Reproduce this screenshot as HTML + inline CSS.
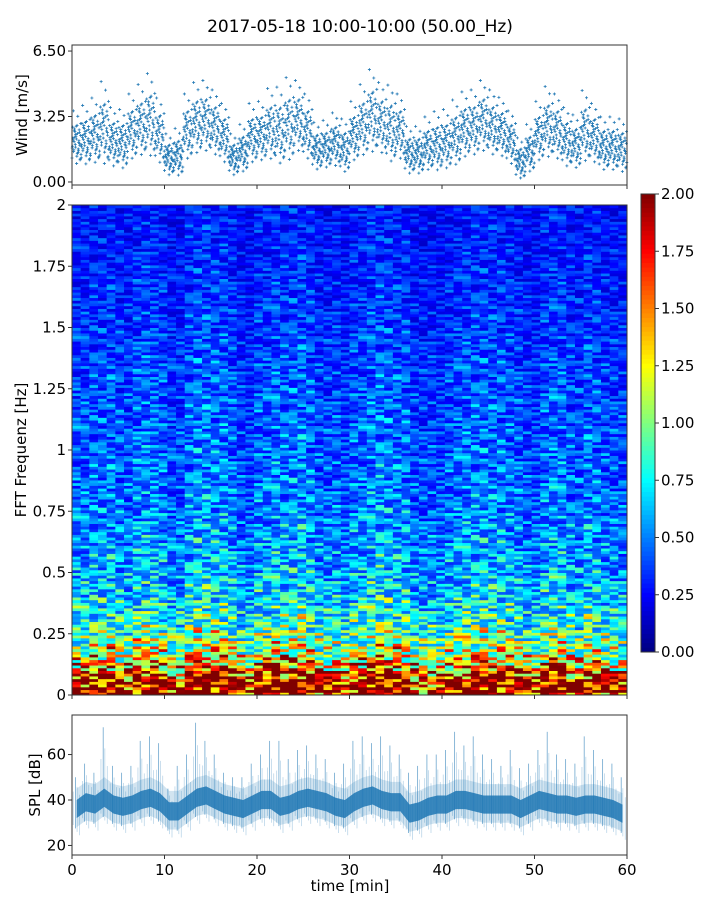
<!DOCTYPE html>
<html><head><meta charset="utf-8">
<style>
body{margin:0;background:#fff;}
svg text{font-family:"DejaVu Sans","Liberation Sans",sans-serif;fill:#000;}
</style></head>
<body>
<svg id="fig" width="720" height="900" viewBox="0 0 720 900" xmlns="http://www.w3.org/2000/svg">
<rect width="720" height="900" fill="#fff"/>
<text x="360" y="32" font-size="17" text-anchor="middle">2017-05-18 10:00-10:00 (50.00_Hz)</text>
<g id="wind"></g>
<g id="spec"></g>
<g id="cbar"></g>
<g id="spl"></g>
</svg>
<script>
// ---- data ----
const minutes = [0,1,2,3,4,5,6,7,8,9,10,11,12,13,14,15,16,17,18,19,20,21,22,23,24,25,26,27,28,29,30,31,32,33,34,35,36,37,38,39,40,41,42,43,44,45,46,47,48,49,50,51,52,53,54,55,56,57,58,59];
const windMean = [2.0,2.1,2.3,2.6,2.0,1.9,2.5,2.8,3.0,2.3,1.2,1.3,2.5,2.9,3.0,2.7,2.2,1.2,1.5,2.2,2.3,2.6,2.5,2.8,3.0,2.5,1.6,1.7,1.9,1.6,2.3,2.8,3.2,2.9,2.6,2.5,1.4,1.4,1.7,1.8,1.9,2.2,2.6,2.7,3.0,2.7,2.5,2.0,1.0,1.5,2.3,2.7,2.5,2.0,1.8,2.5,2.2,1.7,1.7,1.6];
const windSpread = [0.9,1.0,1.1,1.4,1.0,1.0,1.1,1.2,1.4,1.1,0.7,0.8,1.1,1.2,1.2,1.1,1.0,0.7,0.8,1.0,1.0,1.2,1.3,1.4,1.2,1.1,0.8,0.8,0.9,0.9,1.0,1.2,1.4,1.2,1.3,1.1,0.8,0.8,0.9,1.0,1.0,1.1,1.1,1.1,1.2,1.1,1.0,0.9,0.7,0.8,1.0,1.2,1.1,1.0,0.9,1.2,1.0,0.9,0.9,0.9];
const jitter = [-0.9,0.3,-0.2,0.7,-0.5,0.1,0.9,-0.7,0.4,-0.1,0.6,-0.4,0.2,-0.8,1.0,-0.3,0.5,0.0,-0.6,0.8,-1.2,0.35,-0.15,0.65,-0.45,1.4,-0.25,0.15,-0.95,0.55,0.05,-0.55,0.45,-0.35,0.85,-1.0,0.25,-0.05,1.7,-0.65];
const windTicks = [0.00,3.25,6.50];
const freqProfile = [2.0,2.0,1.7,1.4,1.2,1.05,0.95,0.88,0.8,0.75,0.7,0.66,0.62,0.6,0.58,0.56,0.54,0.53,0.52,0.51,0.5,0.48,0.47,0.46,0.45,0.45,0.44,0.43,0.43,0.42,0.42,0.41,0.41,0.4,0.4,0.39,0.39,0.38,0.38,0.37,0.37,0.36,0.35,0.35,0.34,0.33,0.33,0.32,0.32,0.31,0.31,0.3,0.3,0.29,0.29,0.28,0.28,0.28,0.27,0.27];
const timeFactor = [1.0,1.05,1.05,1.1,1.0,0.95,1.1,1.15,1.2,1.05,0.9,0.92,1.1,1.2,1.2,1.15,1.05,0.9,0.92,1.05,1.05,1.15,1.1,1.15,1.2,1.1,0.95,0.95,1.0,0.95,1.05,1.15,1.2,1.15,1.1,1.1,0.9,0.9,0.92,0.95,0.98,1.05,1.1,1.12,1.15,1.1,1.05,1.0,0.9,0.95,1.05,1.12,1.1,1.0,0.95,1.1,1.05,0.95,0.95,0.92];
const stripe = [0.5,-0.4,0.1,-0.55,0.8,0.0,-0.2,0.35,-0.5,0.25,-0.1,0.65,-0.45,0.15,-0.3,0.55,-0.6,0.05,0.3,-0.15,0.9,-0.35,-0.25,0.4,-0.5,0.2,0.7,-0.45,0.05,-0.3,0.45,-0.6,0.1];
const freqTicks = [0,0.25,0.5,0.75,1,1.25,1.5,1.75,2];
const freqTickLabels = ["0","0.25","0.5","0.75","1","1.25","1.5","1.75","2"];
const cbarTicks = [0,0.25,0.5,0.75,1,1.25,1.5,1.75,2];
const splMean = [36,39,38,41,38,37,38,40,41,39,35,35,38,41,42,40,38,37,36,38,40,40,37,38,40,41,40,39,37,36,39,41,42,40,39,39,34,35,37,38,38,40,40,39,38,38,38,38,36,38,40,39,38,38,37,38,38,37,36,34];
const splPeak = [50,56,52,72,55,52,55,66,68,65,45,55,60,74,66,60,52,50,50,56,60,66,66,58,62,64,60,58,52,56,66,68,65,68,64,60,52,55,60,60,62,70,64,68,60,58,55,62,54,56,62,70,60,58,56,68,62,58,56,50];
const splTicks = [20,40,60];
const xTicks = [0,10,20,30,40,50,60];

// ---- helpers ----
const NS="http://www.w3.org/2000/svg";
function mk(parent,tag,attrs,text){const e=document.createElementNS(NS,tag);for(const k in attrs)e.setAttribute(k,attrs[k]);if(text!==undefined)e.textContent=text;parent.appendChild(e);return e;}
const X0=72,X1=627;
const xs = t => X0 + (t/60)*(X1-X0);
function jet(v){v=Math.max(0,Math.min(1,v));
 const r=Math.max(0,Math.min(1,1.5-Math.abs(4*v-3))),g=Math.max(0,Math.min(1,1.5-Math.abs(4*v-2))),b=Math.max(0,Math.min(1,1.5-Math.abs(4*v-1)));
 return `rgb(${Math.round(r*255)},${Math.round(g*255)},${Math.round(b*255)})`;}
function frame(g,y0,y1,name){const r=mk(g,'rect',{x:X0,y:y0,width:X1-X0,height:y1-y0,fill:'none',stroke:'#333','stroke-width':1});
 
 }
function xAxis(g,y,labels){xTicks.forEach(t=>{const l=mk(g,'line',{x1:xs(t),x2:xs(t),y1:y,y2:y+4,stroke:'#333'});
 
 
 if(labels){const tx=mk(g,'text',{x:xs(t),y:y+20,'font-size':15,'text-anchor':'middle'},String(t));
 
 }});}

// ---- wind panel ----
(function(){
 const g=document.getElementById('wind');const Y0=45,Y1=185,ymin=-0.15,ymax=6.8;
 const ys=v=>Y1-(v-ymin)/(ymax-ymin)*(Y1-Y0);
 const n=jitter.length;
 minutes.forEach((m,i)=>{jitter.forEach((j,k)=>{
  const t=m+((k*17)%n)/n;const v=Math.max(0.2,windMean[i]+j*windSpread[i]);
  const p=mk(g,'path',{d:`M${xs(t)-1.5},${ys(v)}h3M${xs(t)},${ys(v)-1.5}v3`,stroke:'#1f77b4','stroke-width':0.8});
  
  });});
 frame(g,Y0,Y1,'wind-axes-frame');
 windTicks.forEach(v=>{mk(g,'line',{x1:X0-4,x2:X0,y1:ys(v),y2:ys(v),stroke:'#333'});
  const t=mk(g,'text',{x:X0-6,y:ys(v)+5,'font-size':15,'text-anchor':'end'},v.toFixed(2));
  
  });
 xAxis(g,Y1,false);
 const yl=mk(g,'text',{x:27,y:115,'font-size':15,'text-anchor':'middle',transform:'rotate(-90 27 115)'},'Wind [m/s]');
 
 
})();

// ---- spectrogram ----
(function(){
 const g=document.getElementById('spec');const Y0=205,Y1=695;
 const ys=f=>Y1-(f/2)*(Y1-Y0);
 const nf=freqProfile.length,df=2/nf;
 const cols=64, subRows=3, L=stripe.length;
 for(let c=0;c<cols;c++){
  const t=c*60/cols, ti=Math.min(59,Math.floor(t));
  for(let f=0;f<nf;f++){for(let s=0;s<subRows;s++){
   const fi=f*subRows+s;
   const sv=stripe[(fi*13+c*7+((fi*c)%11))%L];
   const v=freqProfile[f]*timeFactor[ti]*(1+0.75*sv);
   const f0=(f+s/subRows)*df;
   const r=mk(g,'rect',{x:xs(t),y:ys(f0+df/subRows),width:(X1-X0)/cols+0.5,height:(Y1-Y0)/(nf*subRows)+0.5,fill:jet(v/2)});
   
   }}}
 frame(g,Y0,Y1,'spectrogram-axes-frame');
 freqTicks.forEach((v,i)=>{mk(g,'line',{x1:X0-4,x2:X0,y1:ys(v),y2:ys(v),stroke:'#333'});
  const t=mk(g,'text',{x:X0-6,y:ys(v)+5,'font-size':15,'text-anchor':'end'},freqTickLabels[i]);
  
  });
 xAxis(g,Y1,false);
 const yl=mk(g,'text',{x:26,y:450,'font-size':15,'text-anchor':'middle',transform:'rotate(-90 26 450)'},'FFT Frequenz [Hz]');
 
 
})();

// ---- colorbar ----
(function(){
 const g=document.getElementById('cbar');const CX=641,CW=14,Y0=194,Y1=652;
 const ys=v=>Y1-(v/2)*(Y1-Y0);
 for(let i=0;i<100;i++){const v0=i/100*2;
  mk(g,'rect',{x:CX,y:ys(v0+0.02)-0.3,width:CW,height:(Y1-Y0)/100+0.6,fill:jet(v0/2+0.005)});}
 mk(g,'rect',{x:CX,y:Y0,width:CW,height:Y1-Y0,fill:'none',stroke:'#333'});
 cbarTicks.forEach(v=>{mk(g,'line',{x1:CX+CW,x2:CX+CW+4,y1:ys(v),y2:ys(v),stroke:'#333'});
  const t=mk(g,'text',{x:CX+CW+6,y:ys(v)+5,'font-size':15},v.toFixed(2));
  
  });
})();

// ---- SPL panel ----
(function(){
 const g=document.getElementById('spl');const Y0=715,Y1=855,ymin=15.8,ymax=77.4;
 const ys=v=>Y1-(v-ymin)/(ymax-ymin)*(Y1-Y0);
 let up=[],lo=[],cu=[],cl=[];
 minutes.forEach((m,i)=>{const x=xs(m+0.5);
  up.push(`${x},${ys(splMean[i]+9)}`);lo.unshift(`${x},${ys(splMean[i]-8)}`);
  cu.push(`${x},${ys(splMean[i]+4)}`);cl.unshift(`${x},${ys(splMean[i]-4)}`);});
 const a=mk(g,'polygon',{points:up.concat(lo).join(' '),fill:'#1f77b4','fill-opacity':0.2});
 
 
 const b=mk(g,'polygon',{points:cu.concat(cl).join(' '),fill:'#1f77b4','fill-opacity':0.85});
 
 
 const offs=[0.13,0.37,0.55,0.81];const scl=[0.55,1,0.7,0.45];
 minutes.forEach((m,i)=>{offs.forEach((o,k)=>{
  const pk=splMean[i]+(splPeak[i]-splMean[i])*scl[k];
  const l=mk(g,'line',{x1:xs(m+o),x2:xs(m+o),y1:ys(pk),y2:ys(splMean[i]-7-k*1.5),stroke:'#1f77b4','stroke-width':0.7,'stroke-opacity':k===1?0.75:0.35});
  
  });});
 frame(g,Y0,Y1,'spl-axes-frame');
 splTicks.forEach(v=>{mk(g,'line',{x1:X0-4,x2:X0,y1:ys(v),y2:ys(v),stroke:'#333'});
  const t=mk(g,'text',{x:X0-6,y:ys(v)+5,'font-size':15,'text-anchor':'end'},String(v));
  
  });
 xAxis(g,Y1,true);
 const yl=mk(g,'text',{x:40,y:785,'font-size':15,'text-anchor':'middle',transform:'rotate(-90 40 785)'},'SPL [dB]');
 
 
 const xl=mk(g,'text',{x:350,y:891,'font-size':15,'text-anchor':'middle'},'time [min]');
 
 
})();
</script>
</body></html>
